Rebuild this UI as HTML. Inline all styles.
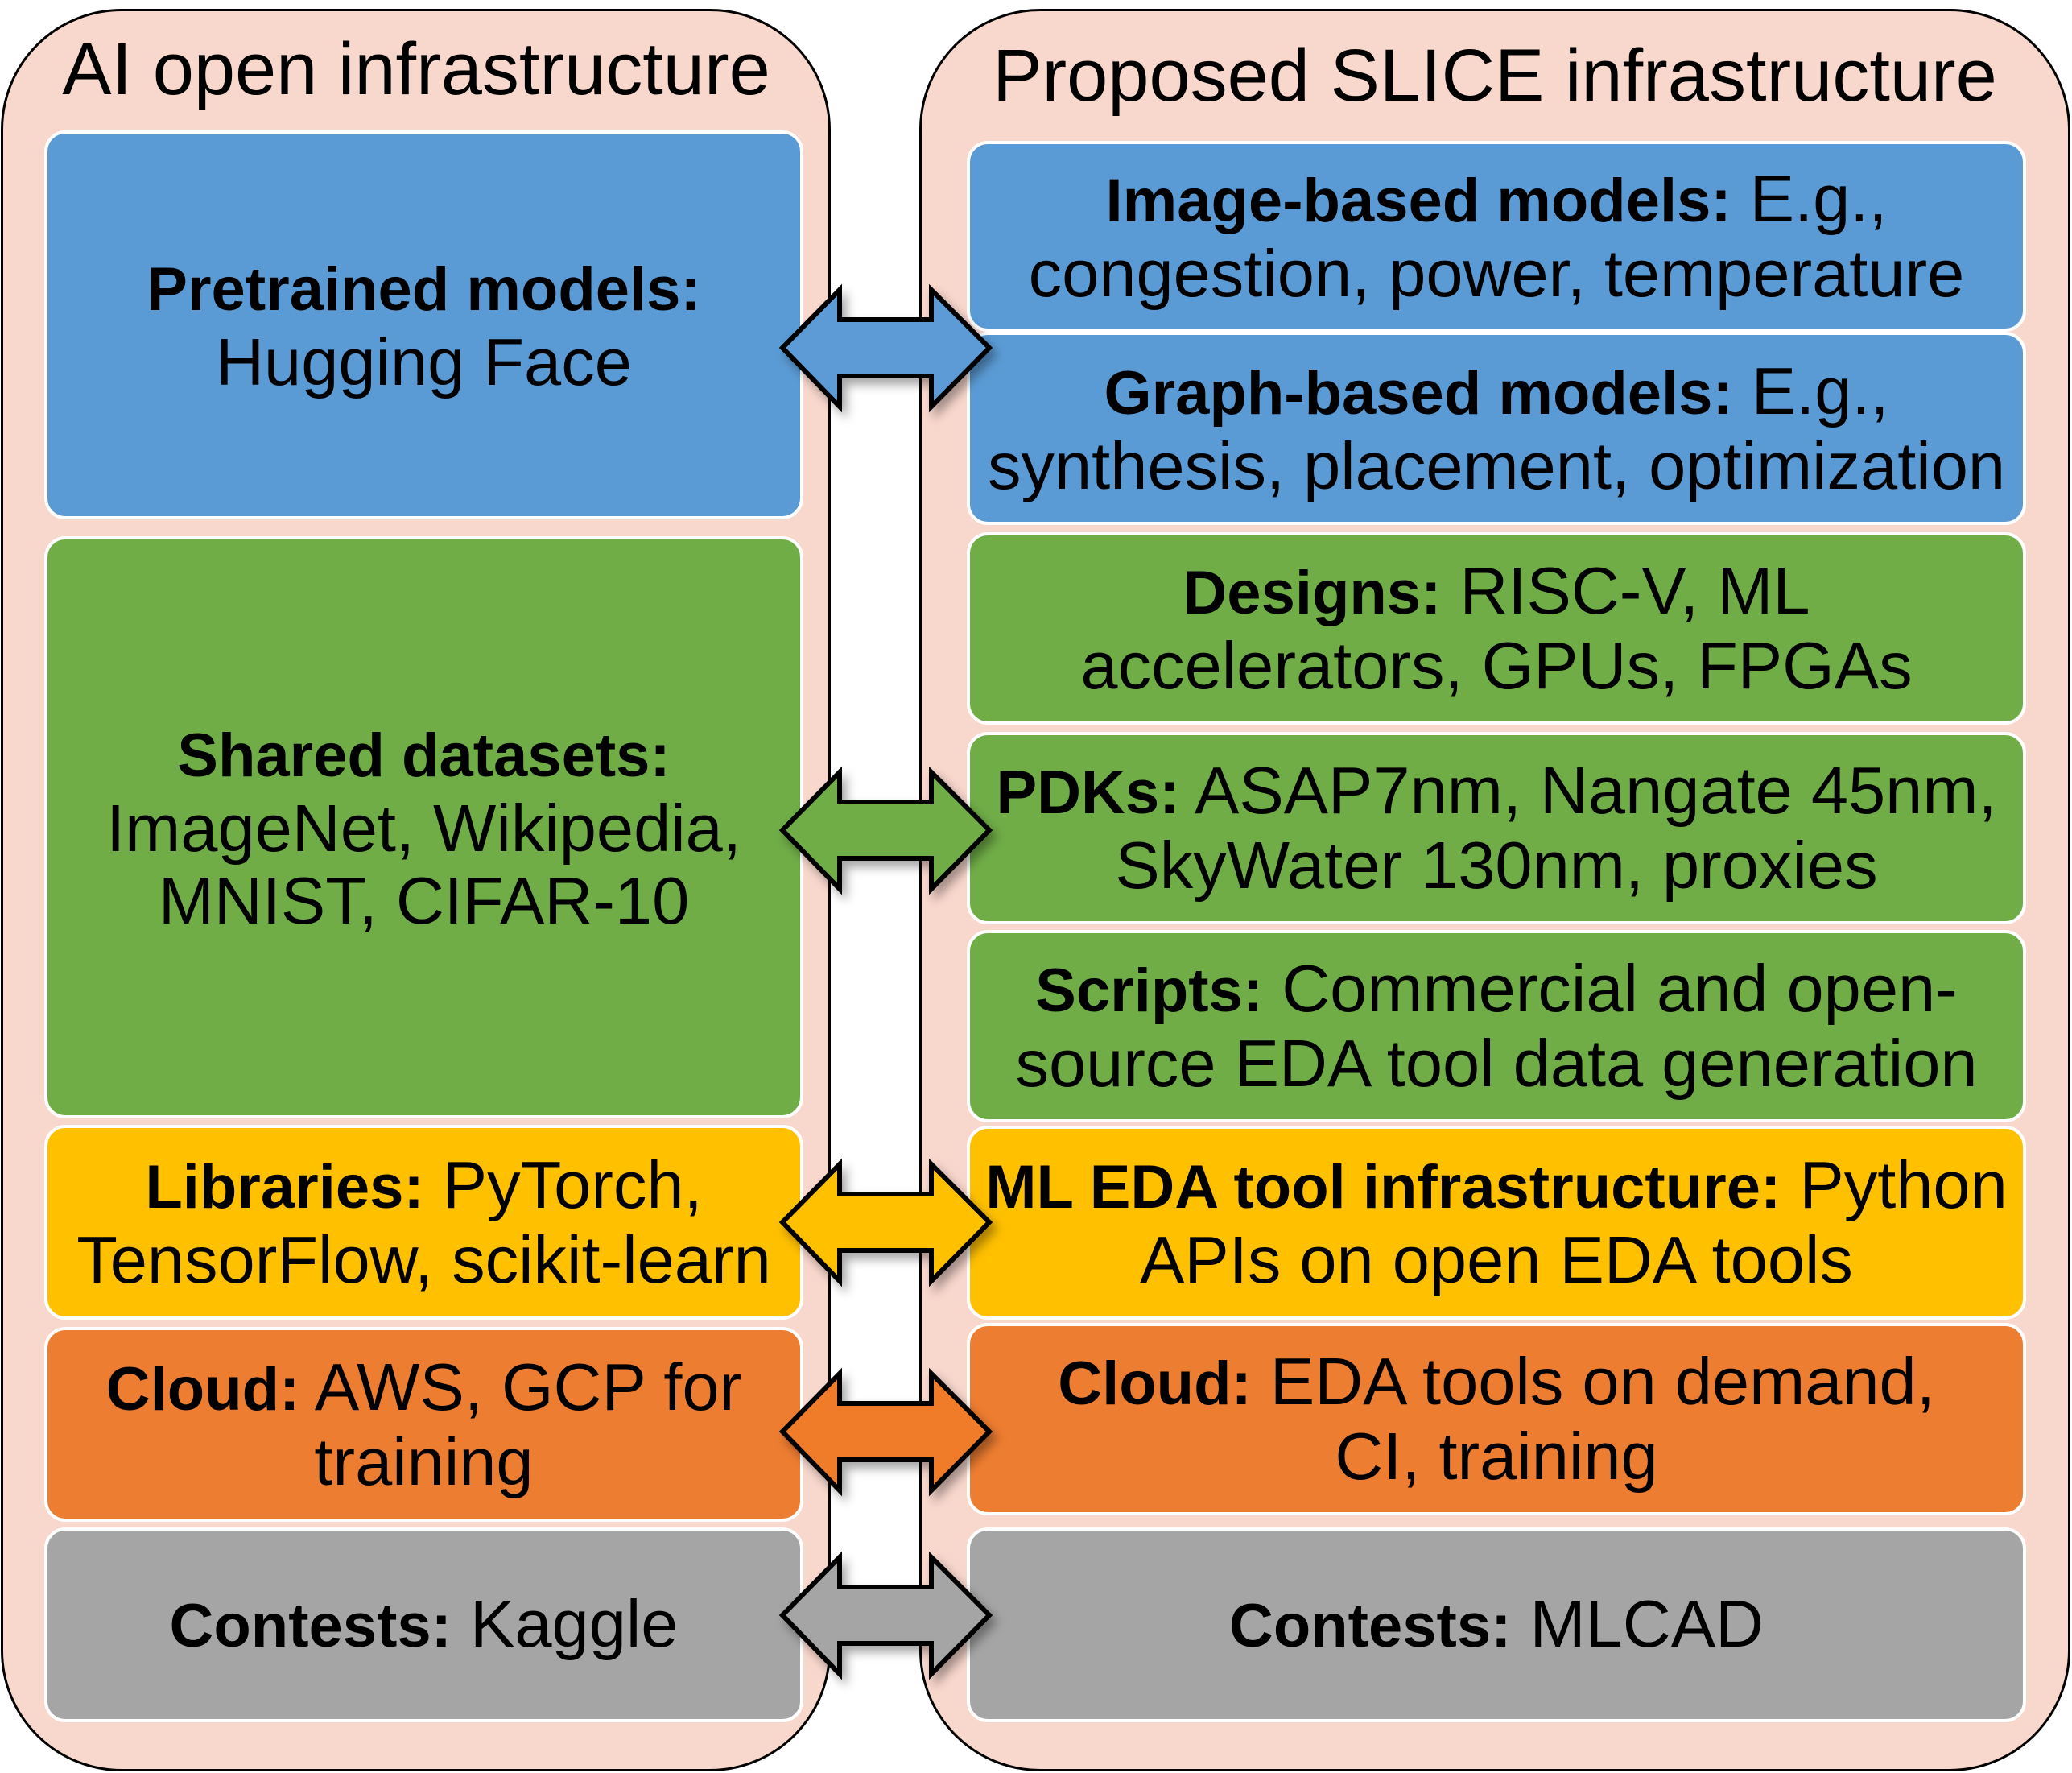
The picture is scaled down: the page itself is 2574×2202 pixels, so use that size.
<!DOCTYPE html>
<html><head><meta charset="utf-8">
<style>
html,body{margin:0;padding:0;background:#fff;}
body{width:2574px;height:2202px;position:relative;overflow:hidden;font-family:"Liberation Sans",Arial,sans-serif;color:#000;}
.cont{position:absolute;background:#f8d7cd;border:3px solid #000;border-radius:150px;box-sizing:border-box;}
.title{position:absolute;font-size:92px;text-align:center;white-space:nowrap;line-height:100px;}
.box{position:absolute;box-sizing:border-box;border:4px solid #fff;border-radius:26px;display:flex;align-items:center;justify-content:center;text-align:center;font-size:83px;line-height:90px;white-space:nowrap;}
b{font-weight:bold;font-size:76px;}
.bl{background:#5b9bd5}.gr{background:#70ad47}.ye{background:#ffc000}.or{background:#ed7d31}.gy{background:#a5a5a5}
</style></head><body>
<div class="cont" style="left:1px;top:11px;width:1031px;height:2189px;"></div>
<div class="cont" style="left:1142px;top:11px;width:1430px;height:2189px;"></div>
<div class="title" style="left:17px;width:1000px;top:36px;">AI open infrastructure</div>
<div class="title" style="left:1157px;width:1400px;top:44px;">Proposed SLICE infrastructure</div>

<div class="box bl" style="left:55px;top:162px;width:943px;height:483px;"><div><b>Pretrained models:</b><br>Hugging Face</div></div>
<div class="box gr" style="left:55px;top:666px;width:943px;height:723px;"><div><b>Shared datasets:</b><br>ImageNet, Wikipedia,<br>MNIST, CIFAR-10</div></div>
<div class="box ye" style="left:55px;top:1397px;width:943px;height:242px;"><div><b>Libraries:</b> PyTorch,<br>TensorFlow, scikit-learn</div></div>
<div class="box or" style="left:55px;top:1648px;width:943px;height:242px;"><div><b>Cloud:</b> AWS, GCP for<br>training</div></div>
<div class="box gy" style="left:55px;top:1897px;width:943px;height:242px;"><div><b>Contests:</b> Kaggle</div></div>

<div class="box bl" style="left:1201px;top:175px;width:1316px;height:237px;"><div><b>Image-based models:</b> E.g.,<br>congestion, power, temperature</div></div>
<div class="box bl" style="left:1201px;top:412px;width:1316px;height:240px;"><div><b>Graph-based models:</b> E.g.,<br>synthesis, placement, optimization</div></div>
<div class="box gr" style="left:1201px;top:661px;width:1316px;height:239px;"><div><b>Designs:</b> RISC-V, ML<br>accelerators, GPUs, FPGAs</div></div>
<div class="box gr" style="left:1201px;top:909px;width:1316px;height:239px;"><div><b>PDKs:</b> ASAP7nm, Nangate 45nm,<br>SkyWater 130nm, proxies</div></div>
<div class="box gr" style="left:1201px;top:1155px;width:1316px;height:239px;"><div><b>Scripts:</b> Commercial and open-<br>source EDA tool data generation</div></div>
<div class="box ye" style="left:1201px;top:1398px;width:1316px;height:241px;"><div><b>ML EDA tool infrastructure:</b> Python<br>APIs on open EDA tools</div></div>
<div class="box or" style="left:1201px;top:1643px;width:1316px;height:239px;"><div><b>Cloud:</b> EDA tools on demand,<br>CI, training</div></div>
<div class="box gy" style="left:1201px;top:1897px;width:1316px;height:242px;"><div><b>Contests:</b> MLCAD</div></div>

<svg width="2574" height="2202" style="position:absolute;left:0;top:0;">
<defs><filter id="sh" x="-20%" y="-30%" width="140%" height="160%"><feDropShadow dx="6" dy="8" stdDeviation="6" flood-color="#000" flood-opacity="0.35"/></filter></defs>
<g stroke="#000" stroke-width="6" stroke-linejoin="miter" filter="url(#sh)">
<polygon fill="#5b9bd5" points="972,432 1043,360 1043,397 1157,397 1157,360 1229,432 1157,505 1157,467 1043,467 1043,505"/>
<polygon fill="#70ad47" points="972,432 1043,360 1043,397 1157,397 1157,360 1229,432 1157,505 1157,467 1043,467 1043,505" transform="translate(0,599)"/>
<polygon fill="#ffc000" points="972,432 1043,360 1043,397 1157,397 1157,360 1229,432 1157,505 1157,467 1043,467 1043,505" transform="translate(0,1086)"/>
<polygon fill="#f07b2b" points="972,432 1043,360 1043,397 1157,397 1157,360 1229,432 1157,505 1157,467 1043,467 1043,505" transform="translate(0,1346)"/>
<polygon fill="#a5a5a5" points="972,432 1043,360 1043,397 1157,397 1157,360 1229,432 1157,505 1157,467 1043,467 1043,505" transform="translate(0,1574)"/>
</g>
</svg>
</body></html>
